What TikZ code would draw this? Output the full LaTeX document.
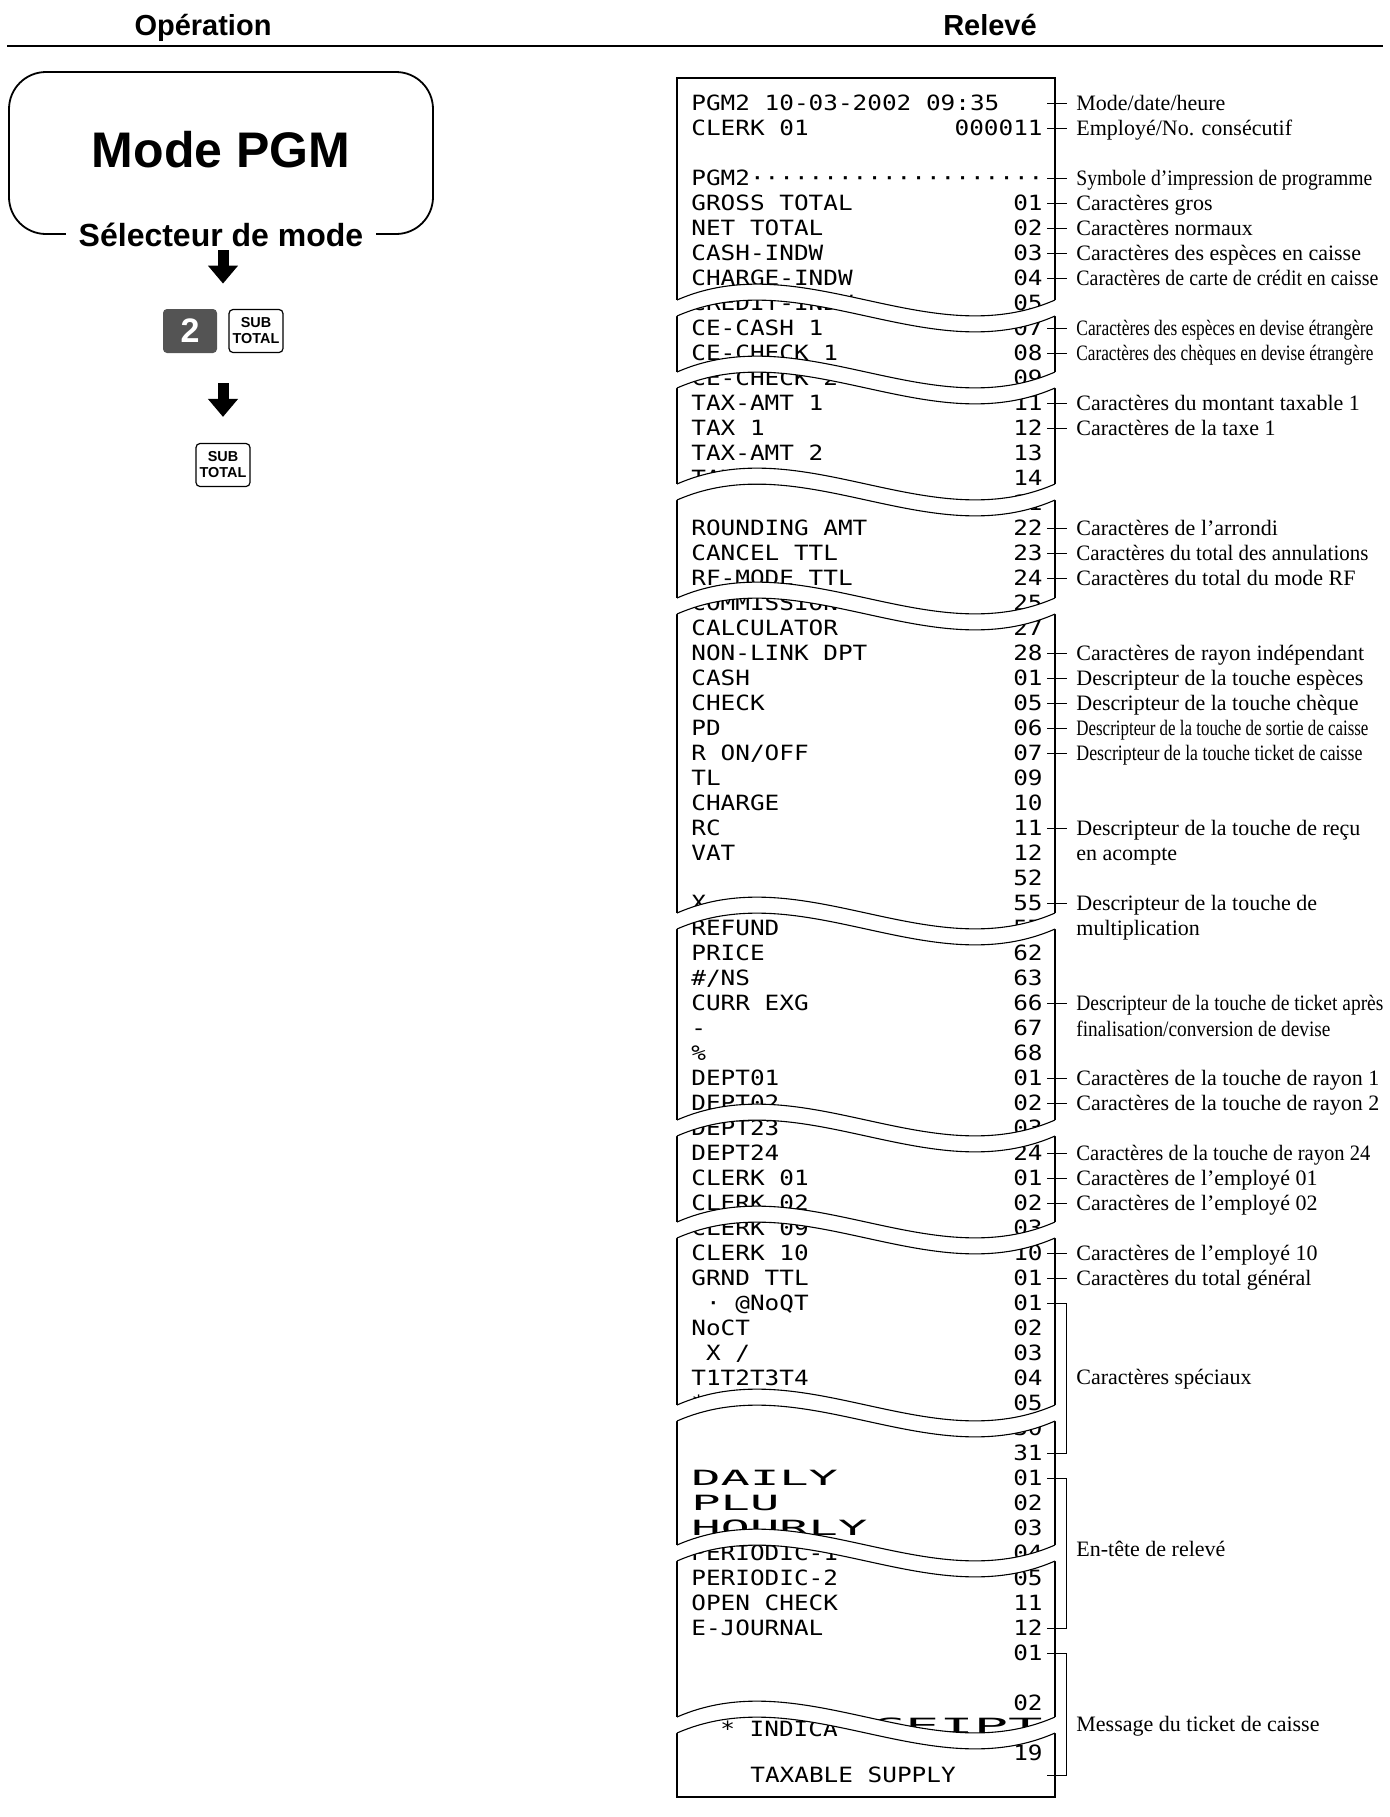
\documentclass[tikz,border=0pt]{standalone}
\usepackage{fontspec}
\usepackage{graphicx}
\setmainfont{Liberation Serif}
\setsansfont{Liberation Sans}
\newfontfamily\rcpfont[FakeStretch=1.16]{DejaVu Sans Mono}
\newfontfamily\rcpwidefont[FakeStretch=2.32]{DejaVu Sans Mono}
\newcommand\emptycol{\phantom{0}}
\usetikzlibrary{positioning,arrows.meta}

\begin{document}
\begin{tikzpicture}[x=0.5pt,y=-0.5pt,
    heading/.style={font=\sffamily\bfseries\fontsize{14.5}{16}\selectfont, inner sep=0pt, text height=10.4pt, text depth=0pt},
    modebox/.style={draw, line width=0.9pt, rounded corners=18.5pt, minimum width=212pt, minimum height=81pt, inner sep=0pt,
      font=\sffamily\bfseries\fontsize{25}{28}\selectfont, text height=17.9pt, text depth=3pt},
    selector/.style={fill=white, font=\sffamily\bfseries\fontsize{16}{18}\selectfont, text height=11.5pt, text depth=0pt, inner ysep=0pt, inner xsep=6.5pt},
    bigarrow/.style={line width=5.5pt, -{Triangle[width=14.5pt,length=9pt]}},
    keydark/.style={fill=black!67, rounded corners=2pt, minimum width=27pt, minimum height=22pt, inner sep=0pt, text=white,
      font=\sffamily\bfseries\fontsize{17}{18}\selectfont},
    keysub/.style={draw, line width=0.6pt, rounded corners=2pt, minimum width=27pt, minimum height=21.5pt, inner sep=0pt, align=center,
      font=\sffamily\bfseries\fontsize{7.2}{8}\selectfont},
    paper/.style={line width=0.55pt},
    rcptext/.style={anchor=west, inner sep=0pt, text height=7.65pt, text depth=0pt, font=\rcpfont\fontsize{10.5}{12}\selectfont},
    rcpnum/.style={rcptext, anchor=east, inner xsep=2pt},
    rcpwide/.style={rcptext, font=\rcpwidefont\fontsize{10.5}{12}\selectfont},
    descr/.style={anchor=west, inner ysep=0pt, inner xsep=4.5pt, text height=7.3pt, text depth=0pt, font=\fontsize{11}{13}\selectfont},
    tick/.style={line width=0.45pt}]
\useasboundingbox (0,0) rectangle (1389,1817);

% headings
\node[heading] (hop) at (203,25) {Opération};
\node[heading] (hrel) at (990,25) {Relevé};
\draw[line width=0.9pt] (7,46) -- (1383,46);

% operation column
\node[modebox] (mode) at (221,153) {Mode PGM};
\node[selector] (selector) at (mode.south) {Sélecteur de mode};
\node[keydark] (key2) at (190,331) {2};
\node[keysub, right=5.5pt of key2] (keysubA) {SUB\\TOTAL};
\node[keysub] (keysubB) at (223,465) {SUB\\TOTAL};
\draw[bigarrow, shorten <=1.75pt, shorten >=12.5pt] (keysubB |- selector.south) -- (keysubB |- key2.north);
\draw[bigarrow, shorten <=15pt, shorten >=13pt] (keysubB |- key2.south) -- (keysubB.north);

% receipt paper
\draw[paper] (677,78) rectangle (1055,1797);

\node[rcptext] (t103) at (691,103) {PGM2 10-03-2002 09:35};
\node[rcptext] (t128) at (691,128) {CLERK 01};        \node[rcpnum] (r128) at (1047,128) {000011};
\node[rcptext] (t178) at (691,178) {PGM2····················};
\node[rcptext] (t203) at (691,203) {GROSS TOTAL};     \node[rcpnum] (r203) at (1047,203) {01};
\node[rcptext] (t228) at (691,228) {NET TOTAL};       \node[rcpnum] (r228) at (1047,228) {02};
\node[rcptext] (t253) at (691,253) {CASH-INDW};       \node[rcpnum] (r253) at (1047,253) {03};
\node[rcptext] (t278) at (691,278) {CHARGE-INDW};     \node[rcpnum] (r278) at (1047,278) {04};
\node[rcptext] (t303) at (691,303) {CREDIT-INDW};     \node[rcpnum] (r303) at (1047,303) {05};
\node[rcptext] (t328) at (691,328) {CE-CASH 1};       \node[rcpnum] (r328) at (1047,328) {07};
\node[rcptext] (t353) at (691,353) {CE-CHECK 1};      \node[rcpnum] (r353) at (1047,353) {08};
\node[rcptext] (t378) at (691,378) {CE-CHECK 2};      \node[rcpnum] (r378) at (1047,378) {09};
\node[rcptext] (t403) at (691,403) {TAX-AMT 1};       \node[rcpnum] (r403) at (1047,403) {11};
\node[rcptext] (t428) at (691,428) {TAX 1};           \node[rcpnum] (r428) at (1047,428) {12};
\node[rcptext] (t453) at (691,453) {TAX-AMT 2};       \node[rcpnum] (r453) at (1047,453) {13};
\node[rcptext] (t478) at (691,478) {TAX 2};           \node[rcpnum] (r478) at (1047,478) {14};
                                                      \node[rcpnum] (r503) at (1047,503) {21};
\node[rcptext] (t528) at (691,528) {ROUNDING AMT};    \node[rcpnum] (r528) at (1047,528) {22};
\node[rcptext] (t553) at (691,553) {CANCEL TTL};      \node[rcpnum] (r553) at (1047,553) {23};
\node[rcptext] (t578) at (691,578) {RF-MODE TTL};     \node[rcpnum] (r578) at (1047,578) {24};
\node[rcptext] (t603) at (691,603) {COMMISSION};      \node[rcpnum] (r603) at (1047,603) {25};
\node[rcptext] (t628) at (691,628) {CALCULATOR};      \node[rcpnum] (r628) at (1047,628) {27};
\node[rcptext] (t653) at (691,653) {NON-LINK DPT};    \node[rcpnum] (r653) at (1047,653) {28};
\node[rcptext] (t678) at (691,678) {CASH};            \node[rcpnum] (r678) at (1047,678) {01};
\node[rcptext] (t703) at (691,703) {CHECK};           \node[rcpnum] (r703) at (1047,703) {05};
\node[rcptext] (t728) at (691,728) {PD};              \node[rcpnum] (r728) at (1047,728) {06};
\node[rcptext] (t753) at (691,753) {R ON/OFF};        \node[rcpnum] (r753) at (1047,753) {07};
\node[rcptext] (t778) at (691,778) {TL};              \node[rcpnum] (r778) at (1047,778) {09};
\node[rcptext] (t803) at (691,803) {CHARGE};          \node[rcpnum] (r803) at (1047,803) {10};
\node[rcptext] (t828) at (691,828) {RC};              \node[rcpnum] (r828) at (1047,828) {11};
\node[rcptext] (t853) at (691,853) {VAT};             \node[rcpnum] (r853) at (1047,853) {12};
                                                      \node[rcpnum] (r878) at (1047,878) {52};
\node[rcptext] (t903) at (691,903) {X};               \node[rcpnum] (r903) at (1047,903) {55};
\node[rcptext] (t928) at (691,928) {REFUND};          \node[rcpnum] (r928) at (1047,928) {57};
\node[rcptext] (t953) at (691,953) {PRICE};           \node[rcpnum] (r953) at (1047,953) {62};
\node[rcptext] (t978) at (691,978) {\#/NS};           \node[rcpnum] (r978) at (1047,978) {63};
\node[rcptext] (t1003) at (691,1003) {CURR EXG};      \node[rcpnum] (r1003) at (1047,1003) {66};
\node[rcptext] (t1028) at (691,1028) {-};             \node[rcpnum] (r1028) at (1047,1028) {67};
\node[rcptext] (t1053) at (691,1053) {\%};            \node[rcpnum] (r1053) at (1047,1053) {68};
\node[rcptext] (t1078) at (691,1078) {DEPT01};        \node[rcpnum] (r1078) at (1047,1078) {01};
\node[rcptext] (t1103) at (691,1103) {DEPT02};        \node[rcpnum] (r1103) at (1047,1103) {02};
\node[rcptext] (t1128) at (691,1128) {DEPT23};        \node[rcpnum] (r1128) at (1047,1128) {03};
\node[rcptext] (t1153) at (691,1153) {DEPT24};        \node[rcpnum] (r1153) at (1047,1153) {24};
\node[rcptext] (t1178) at (691,1178) {CLERK 01};      \node[rcpnum] (r1178) at (1047,1178) {01};
\node[rcptext] (t1203) at (691,1203) {CLERK 02};      \node[rcpnum] (r1203) at (1047,1203) {02};
\node[rcptext] (t1228) at (691,1228) {CLERK 09};      \node[rcpnum] (r1228) at (1047,1228) {03};
\node[rcptext] (t1253) at (691,1253) {CLERK 10};      \node[rcpnum] (r1253) at (1047,1253) {10};
\node[rcptext] (t1278) at (691,1278) {GRND TTL};      \node[rcpnum] (r1278) at (1047,1278) {01};
\node[rcptext] (t1303) at (691,1303) {\emptycol· @NoQT}; \node[rcpnum] (r1303) at (1047,1303) {01};
\node[rcptext] (t1328) at (691,1328) {NoCT};          \node[rcpnum] (r1328) at (1047,1328) {02};
\node[rcptext] (t1353) at (691,1353) {\emptycol X /}; \node[rcpnum] (r1353) at (1047,1353) {03};
\node[rcptext] (t1378) at (691,1378) {T1T2T3T4};      \node[rcpnum] (r1378) at (1047,1378) {04};
\node[rcptext] (t1403) at (691,1403) {*};             \node[rcpnum] (r1403) at (1047,1403) {05};
                                                      \node[rcpnum] (r1428) at (1047,1428) {30};
                                                      \node[rcpnum] (r1453) at (1047,1453) {31};
\node[rcpwide] (t1478) at (691,1478) {DAILY};         \node[rcpnum] (r1478) at (1047,1478) {01};
\node[rcpwide] (t1503) at (691,1503) {PLU};           \node[rcpnum] (r1503) at (1047,1503) {02};
\node[rcpwide] (t1528) at (691,1528) {HOURLY};        \node[rcpnum] (r1528) at (1047,1528) {03};
\node[rcptext] (t1553) at (691,1553) {PERIODIC-1};    \node[rcpnum] (r1553) at (1047,1553) {04};
\node[rcptext] (t1578) at (691,1578) {PERIODIC-2};    \node[rcpnum] (r1578) at (1047,1578) {05};
\node[rcptext] (t1603) at (691,1603) {OPEN CHECK};    \node[rcpnum] (r1603) at (1047,1603) {11};
\node[rcptext] (t1628) at (691,1628) {E-JOURNAL};     \node[rcpnum] (r1628) at (1047,1628) {12};
                                                      \node[rcpnum] (r1653) at (1047,1653) {01};
                                                      \node[rcpnum] (r1703) at (1047,1703) {02};
\node[rcptext] (t1728) at (720,1729) {* INDICA};
\node[rcptext, anchor=east] (w1728) at (1043,1726) {\resizebox{86pt}{\height}{\rcpwidefont CEIPT}};
                                                      \node[rcpnum] (r1753) at (1047,1753) {19};
\node[rcptext] (t1775) at (750,1775) {TAXABLE SUPPLY};

% torn gaps
\foreach \ty in {300,372,484,598,913,1120,1222,1405,1545,1717} {
  \fill[white] (675,\ty) -- (677,\ty) .. controls (803,\ty-55) and (929,\ty+55) .. (1055,\ty) -- (1057,\ty)
    -- (1057,\ty+16) -- (1055,\ty+16) .. controls (929,\ty+71) and (803,\ty-39) .. (677,\ty+16) -- (675,\ty+16) -- cycle;
  \draw[paper] (677,\ty) .. controls (803,\ty-55) and (929,\ty+55) .. (1055,\ty);
  \draw[paper] (677,\ty+16) .. controls (803,\ty-39) and (929,\ty+71) .. (1055,\ty+16);
}

% descriptions
\coordinate (r103) at (1047,103);
\coordinate (r178) at (1047,178);
\coordinate (r1775) at (1047,1775);
\node[descr] (l103) at (1067,103) {Mode/date/heure};
\node[descr] (l128) at (1067,128) {Employé/No. consécutif};
\node[descr] (l178) at (1067,178) {\resizebox{148pt}{\height}{Symbole d’impression de programme}};
\node[descr] (l203) at (1067,203) {Caractères gros};
\node[descr] (l228) at (1067,228) {Caractères normaux};
\node[descr] (l253) at (1067,253) {Caractères des espèces en caisse};
\node[descr] (l278) at (1067,278) {\resizebox{151pt}{\height}{Caractères de carte de crédit en caisse}};
\node[descr] (l328) at (1067,328) {\resizebox{148.5pt}{\height}{Caractères des espèces en devise étrangère}};
\node[descr] (l353) at (1067,353) {\resizebox{148.5pt}{\height}{Caractères des chèques en devise étrangère}};
\node[descr] (l403) at (1067,403) {Caractères du montant taxable 1};
\node[descr] (l428) at (1067,428) {Caractères de la taxe 1};
\node[descr] (l528) at (1067,528) {Caractères de l’arrondi};
\node[descr] (l553) at (1067,553) {\resizebox{146pt}{\height}{Caractères du total des annulations}};
\node[descr] (l578) at (1067,578) {Caractères du total du mode RF};
\node[descr] (l653) at (1067,653) {Caractères de rayon indépendant};
\node[descr] (l678) at (1067,678) {Descripteur de la touche espèces};
\node[descr] (l703) at (1067,703) {Descripteur de la touche chèque};
\node[descr] (l728) at (1067,728) {\resizebox{146pt}{\height}{Descripteur de la touche de sortie de caisse}};
\node[descr] (l753) at (1067,753) {\resizebox{143pt}{\height}{Descripteur de la touche ticket de caisse}};
\node[descr] (l828) at (1067,828) {Descripteur de la touche de reçu};
\node[descr] (l828b) at (1067,853) {en acompte};
\node[descr] (l903) at (1067,903) {Descripteur de la touche de};
\node[descr] (l903b) at (1067,928) {multiplication};
\node[descr] (l1003) at (1067,1003) {\resizebox{153.5pt}{\height}{Descripteur de la touche de ticket après}};
\node[descr] (l1003b) at (1067,1029) {\resizebox{127pt}{\height}{finalisation/conversion de devise}};
\node[descr] (l1078) at (1067,1078) {Caractères de la touche de rayon 1};
\node[descr] (l1103) at (1067,1103) {Caractères de la touche de rayon 2};
\node[descr] (l1153) at (1067,1153) {\resizebox{147pt}{\height}{Caractères de la touche de rayon 24}};
\node[descr] (l1178) at (1067,1178) {Caractères de l’employé 01};
\node[descr] (l1203) at (1067,1203) {Caractères de l’employé 02};
\node[descr] (l1253) at (1067,1253) {Caractères de l’employé 10};
\node[descr] (l1278) at (1067,1278) {Caractères du total général};
\node[descr] (lspec) at (1067,1377) {Caractères spéciaux};
\node[descr] (lhead) at (1067,1549) {En-tête de relevé};
\node[descr] (lmsg) at (1067,1724) {Message du ticket de caisse};

% ticks
\foreach \r in {103,128,178,203,228,253,278,328,353,403,428,528,553,578,653,678,703,728,753,828,903,1003,1078,1103,1153,1178,1203,1253,1278}
  \draw[tick] (r\r.east) -- (l\r.west);
\draw[tick] (r1303.east) -- ++(19,0) |- (r1453.east);
\draw[tick] (r1478.east) -- ++(19,0) |- (r1628.east);
\draw[tick] (r1653.east) -- ++(19,0) |- (r1775);

\end{tikzpicture}
\end{document}
